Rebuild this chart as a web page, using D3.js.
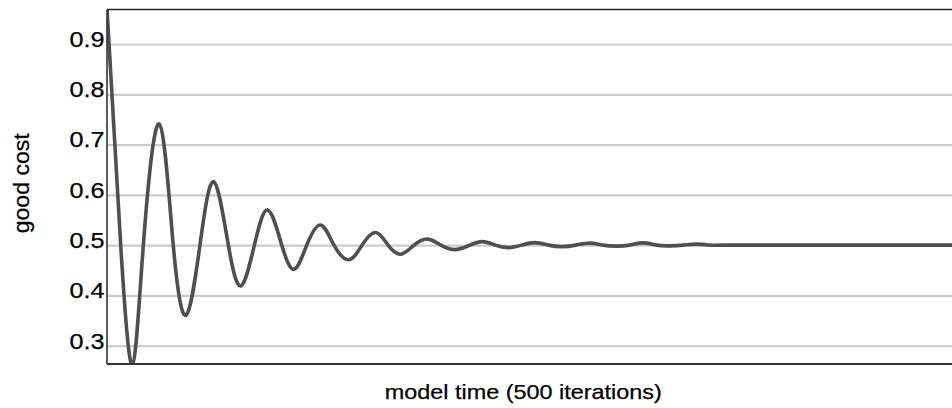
<!DOCTYPE html>
<html>
<head>
<meta charset="utf-8">
<script src="https://cdn.jsdelivr.net/npm/d3@7"></script>
<style>
  html, body { margin: 0; padding: 0; background: #fff; }
  svg { display: block; }
  text { font-family: "Liberation Sans", Arial, Helvetica, sans-serif; fill: #000; stroke: #000; stroke-width: 0.25; }
</style>
</head>
<body>
<svg id="chart" width="952" height="408"></svg>
<script>
// ---- data ----
const iterations = [0, 8.1, 15.0, 21.5, 30.9, 39.2, 46.9, 55.0, 63.1, 71.8, 79.3, 87.2, 95.1, 103.4,
  110.8, 118.2, 126.4, 134.3, 143.2, 150.9, 159.0, 166.3, 173.8, 181.7, 189.8, 197.6, 205.9, 214.0,
  222.1, 229.8, 237.5, 245.4, 253.3, 261.2, 269.2, 277.5, 285.8, 293.5, 301.2, 309.2, 317.2, 325.2,
  333.1, 341.1, 349.1, 357.0, 365.0, 400, 450, 500];
const goodCost = [0.97, 0.5, 0.262, 0.5, 0.741, 0.5, 0.361, 0.5, 0.626, 0.5, 0.419, 0.5, 0.570, 0.5,
  0.452, 0.5, 0.540, 0.5, 0.471, 0.5, 0.525, 0.5, 0.482, 0.5, 0.512, 0.5, 0.491, 0.499,
  0.507, 0.5, 0.495, 0.5, 0.505, 0.5, 0.497, 0.5, 0.504, 0.5, 0.498, 0.5, 0.5045, 0.5,
  0.4985, 0.5, 0.502, 0.5, 0.5, 0.5, 0.5, 0.5];
const yTicks = [0.3, 0.4, 0.5, 0.6, 0.7, 0.8, 0.9];
const xTitle = "model time (500 iterations)";
const yTitle = "good cost";

// ---- layout ----
const mLeft = 107, mRight = 952, mTop = 9.5, mBottom = 364;
const svg = d3.select("#chart");

const x = d3.scaleLinear().domain([0, 500]).range([mLeft, mRight]);
const y = d3.scaleLinear().domain([0.2636, 0.9686]).range([mBottom, mTop]);

// clip
svg.append("defs").append("clipPath").attr("id", "plotclip")
  .append("rect").attr("x", mLeft).attr("y", mTop).attr("width", mRight - mLeft + 2).attr("height", mBottom - mTop);

// gridlines
const yAxis = d3.axisLeft(y).tickValues(yTicks).tickSize(-(mRight - mLeft + 4)).tickFormat(d3.format(".1f"));
const gAxis = svg.append("g").attr("transform", `translate(${mLeft},0)`).call(yAxis);
gAxis.select(".domain").remove();
gAxis.selectAll(".tick line").attr("stroke", "#cbcbcb").attr("stroke-width", 2.2);
gAxis.selectAll(".tick text")
  .attr("x", -2.5)
  .attr("dy", "0.11em")
  .attr("font-size", 21.5)
  .attr("textLength", 35)
  .attr("lengthAdjust", "spacingAndGlyphs")
  .attr("fill", "#000")
  .attr("text-anchor", "end");

// line
const line = d3.line()
  .x((d, i) => x(iterations[i]))
  .y((d) => y(d))
  .curve(d3.curveNatural);

svg.append("path")
  .datum(goodCost)
  .attr("clip-path", "url(#plotclip)")
  .attr("d", line)
  .attr("fill", "none")
  .attr("stroke", "#4f4f4f")
  .attr("stroke-width", 3.6)
  .attr("stroke-linejoin", "round");

// frame
svg.append("line").attr("x1", mLeft).attr("x2", mRight + 2).attr("y1", mTop).attr("y2", mTop)
  .attr("stroke", "#222").attr("stroke-width", 1.6);
svg.append("line").attr("x1", mLeft).attr("x2", mRight + 2).attr("y1", mBottom).attr("y2", mBottom)
  .attr("stroke", "#333").attr("stroke-width", 2);
svg.append("line").attr("x1", mLeft).attr("x2", mLeft).attr("y1", mTop).attr("y2", mBottom)
  .attr("stroke", "#333").attr("stroke-width", 1.6);

// titles
svg.append("text")
  .attr("x", 523.3).attr("y", 398.5)
  .attr("text-anchor", "middle")
  .attr("font-size", 21)
  .attr("textLength", 277)
  .attr("lengthAdjust", "spacingAndGlyphs")
  .text(xTitle);

svg.append("text")
  .attr("transform", "translate(28.5,183.3) rotate(-90)")
  .attr("text-anchor", "middle")
  .attr("font-size", 22.5)
  .attr("textLength", 100)
  .attr("lengthAdjust", "spacingAndGlyphs")
  .text(yTitle);
</script>
</body>
</html>
